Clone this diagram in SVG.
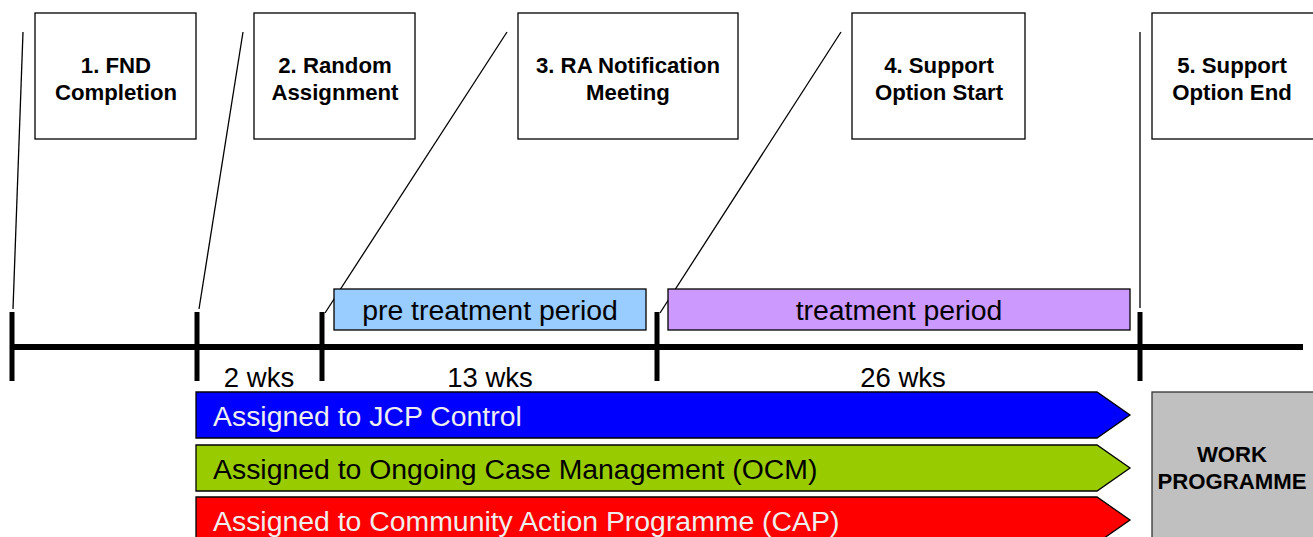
<svg xmlns="http://www.w3.org/2000/svg" width="1313" height="537" viewBox="0 0 1313 537">
<style>
.box{fill:#fff;stroke:#000;stroke-width:1.3}
.bl{font-family:"Liberation Sans",Arial,sans-serif;font-weight:bold;font-size:22.2px;text-anchor:middle;fill:#000}
.rl{font-family:"Liberation Sans",Arial,sans-serif;font-size:27.5px;text-anchor:middle;fill:#000}
.pl{font-family:"Liberation Sans",Arial,sans-serif;font-size:28.4px;text-anchor:middle;fill:#000}
.al{font-family:"Liberation Sans",Arial,sans-serif;font-size:28.4px}
.tick{stroke:#000;stroke-width:5}
.thin{stroke:#000;stroke-width:1.3;fill:none}
.arr{stroke:#000;stroke-width:1.3}
</style>
<rect width="1313" height="537" fill="#fff"/>
<g id="connectors">
<line class="thin" x1="23" y1="32" x2="13" y2="309"/>
<line class="thin" x1="243" y1="32" x2="199" y2="309"/>
<line class="thin" x1="507" y1="32" x2="325" y2="313"/>
<line class="thin" x1="841" y1="32" x2="660" y2="313"/>
<line class="thin" x1="1140" y1="32" x2="1140" y2="308"/>
</g>
<g id="timeline">
<line x1="10" y1="347" x2="1303" y2="347" stroke="#000" stroke-width="6"/>
<line class="tick" x1="12" y1="312" x2="12" y2="381"/>
<line class="tick" x1="197" y1="312" x2="197" y2="381"/>
<line class="tick" x1="322" y1="312" x2="322" y2="381"/>
<line class="tick" x1="657" y1="312" x2="657" y2="381"/>
<line class="tick" x1="1140" y1="312" x2="1140" y2="381"/>
<text class="rl" x="259" y="387">2 wks</text>
<text class="rl" x="490" y="387">13 wks</text>
<text class="rl" x="903" y="387">26 wks</text>
</g>
<g id="node1"><rect class="box" x="35" y="13" width="161" height="126"/>
<text class="bl" x="116" y="73">1. FND</text><text class="bl" x="116" y="100">Completion</text></g>
<g id="node2"><rect class="box" x="254" y="13" width="161" height="126"/>
<text class="bl" x="335" y="73">2. Random</text><text class="bl" x="335" y="100">Assignment</text></g>
<g id="node3"><rect class="box" x="518" y="13" width="220" height="126"/>
<text class="bl" x="628" y="73">3. RA Notification</text><text class="bl" x="628" y="100">Meeting</text></g>
<g id="node4"><rect class="box" x="852" y="13" width="173" height="126"/>
<text class="bl" x="939" y="73">4. Support</text><text class="bl" x="939" y="100">Option Start</text></g>
<g id="node5"><rect class="box" x="1152" y="13" width="170" height="126"/>
<text class="bl" x="1232" y="73">5. Support</text><text class="bl" x="1232" y="100">Option End</text></g>
<g id="pre-treatment"><rect x="334" y="289" width="312" height="41" fill="#99ccff" stroke="#000" stroke-width="1.3"/>
<text class="pl" x="490" y="320">pre treatment period</text></g>
<g id="treatment"><rect x="668" y="289" width="462" height="41" fill="#cc99ff" stroke="#000" stroke-width="1.3"/>
<text class="pl" x="899" y="320">treatment period</text></g>
<g id="jcp"><polygon class="arr" fill="#0000ff" points="196,392 1097,392 1130,415 1097,438 196,438"/>
<text class="al" x="213" y="426" fill="#eeeeee">Assigned to JCP Control</text></g>
<g id="ocm"><polygon class="arr" fill="#99cc00" points="196,445 1097,445 1130,468 1097,491 196,491"/>
<text class="al" x="213" y="479" fill="#000">Assigned to Ongoing Case Management (OCM)</text></g>
<g id="cap"><polygon class="arr" fill="#ff0000" points="196,497 1097,497 1130,520 1097,543 196,543"/>
<text class="al" x="213" y="531" fill="#eeeeee">Assigned to Community Action Programme (CAP)</text></g>
<g id="work"><rect x="1152" y="392" width="170" height="160" fill="#c0c0c0" stroke="#333" stroke-width="1.3"/>
<text class="bl" x="1232" y="462">WORK</text><text class="bl" x="1232" y="489">PROGRAMME</text></g>
</svg>
